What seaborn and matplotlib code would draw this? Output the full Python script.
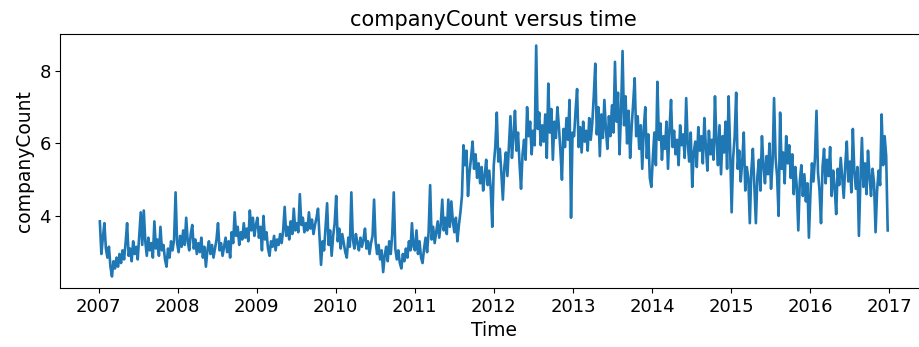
import matplotlib
matplotlib.use("Agg")
import matplotlib.pyplot as plt
import numpy as np
import pandas as pd
import seaborn as sns

# Weekly companyCount values, one list per calendar year
y2007 = [3.85, 2.95, 3.40, 3.80, 3.10, 2.85, 3.15, 2.60, 2.33, 2.75, 2.55, 2.85, 2.60,
         2.95, 2.70, 3.05, 2.80, 3.25, 3.80, 2.90, 3.10, 2.75, 3.30, 2.95, 3.15, 2.80,
         3.45, 4.10, 3.20, 4.15, 3.30, 2.90, 3.40, 3.05, 3.25, 2.85, 3.85, 3.10, 3.35,
         2.90, 3.70, 3.05, 3.20, 2.80, 2.60, 3.10, 2.85, 3.30, 3.05, 3.35, 4.65, 3.25]
y2008 = [3.00, 3.45, 3.15, 3.60, 3.20, 3.95, 3.30, 3.05, 3.50, 3.75, 3.10, 3.35, 2.95,
         3.25, 3.00, 3.40, 2.85, 3.15, 2.60, 3.05, 3.30, 2.95, 3.20, 2.85, 3.10, 3.35,
         3.80, 3.05, 3.25, 2.90, 3.15, 3.40, 3.00, 3.30, 2.85, 3.55, 3.25, 4.10, 3.45,
         3.70, 3.20, 3.55, 3.35, 3.80, 3.40, 3.65, 3.30, 4.15, 3.60, 3.95, 3.45, 3.75]
y2009 = [3.95, 3.40, 3.70, 3.05, 4.00, 3.35, 3.55, 3.10, 2.90, 3.30, 3.15, 3.45, 3.05,
         3.35, 3.20, 3.50, 3.25, 3.60, 4.25, 3.45, 3.70, 3.35, 3.85, 3.50, 4.20, 3.60,
         3.80, 3.55, 4.60, 3.75, 3.95, 3.55, 3.80, 3.60, 4.10, 3.65, 3.90, 3.50, 3.75,
         3.95, 4.20, 3.40, 2.65, 3.30, 3.05, 3.70, 4.35, 3.20, 3.60, 2.90, 3.45, 3.80]
y2010 = [4.55, 3.30, 3.65, 3.10, 3.50, 3.25, 3.00, 2.85, 3.40, 3.15, 4.65, 3.35, 3.10,
         3.50, 3.25, 3.05, 3.40, 3.15, 3.35, 3.65, 3.10, 3.30, 2.95, 3.25, 3.45, 4.45,
         3.30, 2.95, 3.20, 2.80, 3.05, 2.45, 2.90, 3.15, 2.75, 3.30, 2.95, 3.50, 4.65,
         3.10, 2.80, 3.05, 2.70, 2.55, 2.95, 2.75, 3.10, 2.85, 3.30, 3.05, 3.80, 3.15]
y2011 = [3.05, 3.60, 2.95, 3.30, 2.85, 2.70, 3.10, 3.40, 3.00, 3.55, 4.85, 3.35, 3.70,
         3.25, 3.55, 3.85, 3.40, 3.75, 4.45, 3.60, 3.95, 3.50, 4.45, 3.70, 4.40, 3.85,
         3.55, 3.95, 3.30, 3.75, 4.10, 4.55, 5.95, 5.40, 5.80, 4.55, 5.20, 5.60, 6.05,
         5.30, 5.70, 5.05, 5.45, 4.90, 5.35, 4.70, 5.10, 5.55, 4.85, 5.25, 4.75, 3.70]
y2012 = [5.40, 5.90, 6.85, 5.50, 5.85, 5.20, 4.45, 5.35, 5.75, 5.10, 5.90, 6.75, 5.60,
         6.20, 6.90, 5.80, 6.30, 5.45, 4.75, 5.70, 6.10, 5.55, 7.00, 6.20, 6.60, 5.70,
         6.35, 5.95, 8.70, 6.40, 6.85, 5.95, 6.50, 6.05, 6.80, 5.60, 7.65, 6.30, 6.95,
         5.55, 6.60, 6.15, 7.00, 6.45, 5.80, 5.00, 6.40, 5.90, 6.70, 6.10, 7.20, 3.95, 6.30]
y2013 = [6.20, 6.90, 7.50, 5.90, 6.45, 5.75, 6.60, 6.05, 6.35, 5.80, 6.70, 6.10, 6.55,
         7.30, 8.20, 6.25, 7.00, 5.65, 6.80, 6.15, 7.20, 6.40, 5.85, 6.75, 6.20, 7.05,
         6.30, 8.25, 6.60, 7.40, 5.70, 6.85, 8.55, 6.50, 7.30, 6.00, 6.90, 5.60, 6.45,
         7.10, 7.80, 6.20, 6.75, 5.85, 6.50, 5.30, 6.40, 7.00, 5.60, 6.25, 5.05, 4.80]
y2014 = [5.60, 6.30, 5.40, 7.70, 6.10, 6.55, 5.55, 6.20, 5.85, 6.60, 5.30, 6.40, 7.20,
         5.90, 6.35, 5.70, 6.10, 5.40, 6.50, 5.95, 6.25, 5.60, 7.25, 6.00, 5.50, 6.30,
         4.80, 5.75, 6.05, 5.35, 6.45, 5.80, 6.20, 5.45, 6.70, 5.90, 5.25, 6.35, 5.70,
         6.10, 5.55, 7.30, 6.05, 5.40, 6.50, 5.15, 6.20, 5.75, 6.60, 5.30, 7.30, 5.85]
y2015 = [4.10, 5.60, 6.20, 7.40, 5.30, 5.80, 4.95, 5.50, 6.30, 4.70, 5.35, 5.05, 3.80,
         5.25, 5.85, 4.85, 3.80, 5.10, 5.55, 4.70, 6.20, 5.40, 4.90, 5.65, 5.15, 6.00,
         4.75, 5.45, 7.25, 5.60, 5.10, 4.00, 6.85, 5.30, 5.75, 4.90, 6.20, 5.45, 5.95,
         5.05, 5.70, 4.60, 5.35, 4.80, 3.60, 4.95, 5.40, 4.55, 5.15, 4.40, 4.90, 3.40]
y2016 = [4.60, 5.45, 4.95, 5.60, 6.90, 5.20, 4.70, 3.80, 5.35, 5.85, 4.90, 5.55, 5.10,
         5.90, 4.55, 5.25, 4.80, 4.05, 5.30, 4.85, 5.60, 5.05, 4.50, 5.40, 6.05, 4.95,
         5.50, 4.65, 6.40, 5.20, 4.75, 5.35, 3.45, 5.00, 6.15, 4.80, 5.45, 4.60, 5.80,
         5.10, 4.55, 5.30, 4.90, 3.55, 4.70, 5.25, 4.85, 6.80, 5.40, 6.20, 5.65, 3.60]

yearly = {2007: y2007, 2008: y2008, 2009: y2009, 2010: y2010, 2011: y2011,
          2012: y2012, 2013: y2013, 2014: y2014, 2015: y2015, 2016: y2016}

frames = []
for year, vals in yearly.items():
    weeks = pd.date_range(f"{year}-01-01", f"{year}-12-31", freq="W-SUN")
    n = min(len(weeks), len(vals))
    frames.append(pd.DataFrame({"Time": weeks[:n], "companyCount": vals[:n]}))
df = pd.concat(frames, ignore_index=True)

plt.rcParams["font.family"] = ["DejaVu Sans"]
fig = plt.figure(figsize=(9.2, 3.47), dpi=100)
ax = fig.add_axes([0.0657, 0.170, 0.942, 0.732])

sns.lineplot(data=df, x="Time", y="companyCount", ax=ax, color="#1f77b4",
             linewidth=1.9)

ax.set_title("companyCount versus time", fontsize=15)
ax.set_xlabel("Time", fontsize=13.5)
ax.set_ylabel("companyCount", fontsize=13.5)
ax.tick_params(labelsize=13)
ax.set_yticks([4, 6, 8])
# the right edge of the frame runs past the canvas
ax.spines["right"].set_visible(False)

fig.savefig("out.png", dpi=100)
